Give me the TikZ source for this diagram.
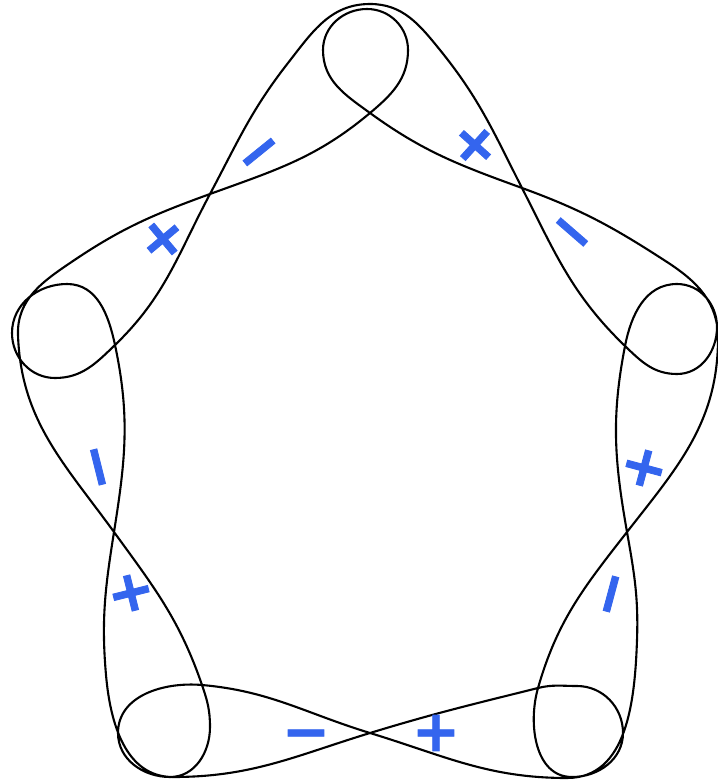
\documentclass[tikz,border=0pt]{standalone}
\usepackage{fontspec}
\newfontfamily\signfont{DejaVu Sans}[BoldFeatures={FakeBold=1.5}]
\usepackage{tikz}
\colorlet{curvecol}{black}
\definecolor{signcol}{RGB}{52,101,238}
\tikzset{curveline/.style={curvecol, line width=2.1pt},
  signmark/.style={text=signcol, inner sep=0pt,
    font=\signfont\bfseries\fontsize{57}{57}\selectfont}}

\begin{document}
\begin{tikzpicture}[x=1pt, y=1pt, yscale=-1]

  % Frame.
  \useasboundingbox (0,0) rectangle (717,783);

  % Crossings in the middle of the sides.
  \coordinate (ulx) at (210,194);
  \coordinate (urx) at (522,188);
  \coordinate (rx) at (627,532);
  \coordinate (bx) at (370,733);
  \coordinate (lx) at (114,532);

  % Top corner.
  \coordinate (tc) at (370,113);
  \coordinate (tr) at (408,50);
  \coordinate (tt) at (367,9);
  \coordinate (tl) at (323,50);
  \coordinate (ts) at (288,63);
  \coordinate (ta) at (370,4);
  \coordinate (tq) at (440,50);

  % Right corner.
  \coordinate (ro) at (667,262);
  \coordinate (re) at (718,338);
  \coordinate (rc) at (625,346);
  \coordinate (rb) at (677,374);
  \coordinate (rr) at (717,327);
  \coordinate (rt) at (677,284);
  \coordinate (rd) at (637,640);

  % Bottom right corner.
  \coordinate (brc) at (538,688);
  \coordinate (brb) at (572,777);
  \coordinate (brr) at (623,733);
  \coordinate (brt) at (577,686);
  \coordinate (bro) at (567,778);

  % Bottom left corner.
  \coordinate (blc) at (202,685);
  \coordinate (bla) at (118,733);
  \coordinate (blb) at (170,777);
  \coordinate (blr) at (210,727);
  \coordinate (blo) at (173,777);
  \coordinate (bll) at (106,675);

  % Left corner.
  \coordinate (lc) at (115,345);
  \coordinate (lt) at (67,284);
  \coordinate (le) at (12,333);
  \coordinate (lb) at (55,378);
  \coordinate (lo) at (18,335);
  \coordinate (lu) at (73,261);

  % The closed curve: two strands round the pentagon, a loop at each corner.
  \draw[curveline] (ulx)
    to[out=-20,in=140] (tc) to[out=-40,in=90] (tr)
    to[out=-90,in=0] (tt) to[out=180,in=-90] (tl)
    to[out=90,in=216] (tc) to[out=36,in=200] (urx)
    to[out=20,in=213] (ro) to[out=33,in=-90] (re)
    to[out=90,in=-52] (rx) to[out=128,in=-74] (brc)
    to[out=106,in=180] (brb) to[out=0,in=90] (brr)
    to[out=-90,in=0] (brt) to[out=180,in=-14] (brc)
    to[out=166,in=-17] (bx) to[out=163,in=0] (blo)
    to[out=180,in=85] (bll) to[out=-95,in=99] (lx)
    to[out=-81,in=78] (lc) to[out=-102,in=0] (lt)
    to[out=180,in=-90] (le) to[out=90,in=180] (lb)
    to[out=0,in=136] (lc) to[out=-44,in=118] (ulx)
    to[out=-62,in=128] (ts) to[out=-52,in=180] (ta)
    to[out=0,in=231] (tq) to[out=51,in=243] (urx)
    to[out=63,in=224] (rc) to[out=44,in=180] (rb)
    to[out=0,in=90] (rr) to[out=-90,in=0] (rt)
    to[out=180,in=-79] (rc) to[out=101,in=260] (rx)
    to[out=80,in=272] (rd) to[out=92,in=0] (bro)
    to[out=180,in=17] (bx) to[out=-163,in=5] (blc)
    to[out=185,in=-90] (bla) to[out=90,in=180] (blb)
    to[out=0,in=90] (blr) to[out=-90,in=71] (blc)
    to[out=-109,in=54] (lx) to[out=-126,in=88] (lo)
    to[out=-92,in=146] (lu) to[out=-34,in=160] (ulx) -- cycle;

  % Plus signs, one on each side.
  \foreach \nm/\px/\py/\ang in {plusA/163/239/40, plusB/475/145/-42,
      plusC/644/468/75, plusD/436/733/0, plusE/131/593/-76} {
    \node[signmark, rotate=\ang] (\nm) at (\px,\py) {+};
  }

  % Minus signs.
  \foreach \nm/\px/\py/\ang in {minusA/259/152/39, minusB/572/232/-41,
      minusC/611/594/75, minusD/306/733/0, minusE/98/467/-76} {
    \node[signmark, rotate=\ang] (\nm) at (\px,\py) {\vphantom{+}−};
  }

\end{tikzpicture}
\end{document}
